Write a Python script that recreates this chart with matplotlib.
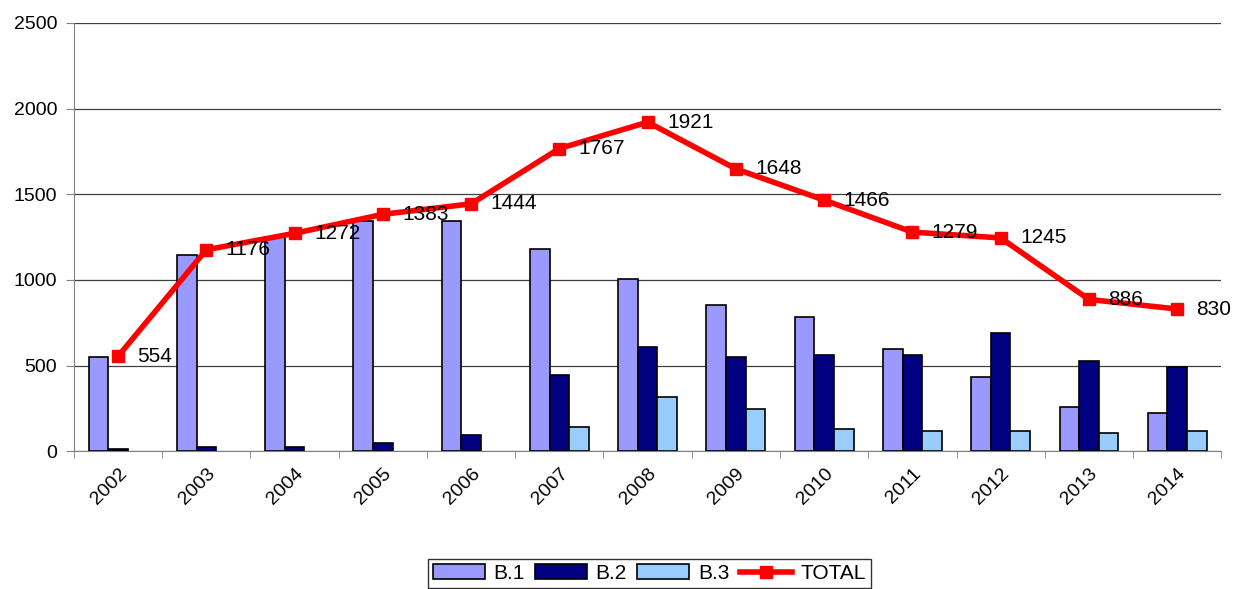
import matplotlib.pyplot as plt
import numpy as np

years = ['2002', '2003', '2004', '2005', '2006', '2007', '2008',
         '2009', '2010', '2011', '2012', '2013', '2014']
b1 = [550, 1145, 1250, 1345, 1345, 1180, 1005, 853, 784, 596, 434, 259, 220]
b2 = [15, 25, 25, 48, 93, 444, 609, 551, 561, 561, 691, 527, 492]
b3 = [0, 0, 0, 0, 0, 142, 317, 245, 128, 117, 117, 107, 117]
total = [554, 1176, 1272, 1383, 1444, 1767, 1921, 1648, 1466, 1279, 1245, 886, 830]

plt.rcParams['font.family'] = ['Liberation Sans', 'DejaVu Sans']

fig = plt.figure(figsize=(12.39, 5.89), dpi=100)
ax = fig.add_axes([0.0597, 0.234, 0.926, 0.727])

x = np.arange(len(years))
w = 0.222
handles = []
for vals, off, col, lab in [(b1, -w, '#9999FF', 'B.1'),
                            (b2, 0, '#000080', 'B.2'),
                            (b3, w, '#99CCFF', 'B.3')]:
    # no outline for empty bars
    lws = [1.2 if v > 0 else 0 for v in vals]
    bars = ax.bar(x + off, vals, w, color=col, edgecolor='black',
                  linewidth=lws, label=lab, zorder=3)
    handles.append(bars)
line, = ax.plot(x, total, color='#FF0000', linewidth=4, marker='s', markersize=9,
                label='TOTAL', zorder=4)
handles.append(line)

for xi, v in zip(x, total):
    ax.annotate(str(v), (xi, v), xytext=(14, 0), textcoords='offset points',
                ha='left', va='center', fontsize=15, zorder=5)

ax.set_xlim(-0.5, len(years) - 0.5)
ax.set_ylim(0, 2500)
ax.set_yticks(range(0, 2501, 500))
ax.yaxis.grid(True, color='#404040', linewidth=0.9, zorder=0)
ax.set_axisbelow(True)

ax.set_xticks(x)
ax.set_xticklabels(years, rotation=45, ha='right', rotation_mode='anchor', fontsize=14)
ax.set_xticks(np.arange(-0.5, len(years)), minor=True)
ax.tick_params(axis='x', which='major', length=0, pad=10)
ax.tick_params(axis='x', which='minor', length=5, color='#808080')
ax.tick_params(axis='y', length=6, color='#808080', labelsize=14, pad=6)

for s in ['top', 'right']:
    ax.spines[s].set_visible(False)
for s in ['left', 'bottom']:
    ax.spines[s].set_color('#808080')

leg = fig.legend(handles, ['B.1', 'B.2', 'B.3', 'TOTAL'],
                 loc='lower center', bbox_to_anchor=(0.524, -0.016), ncol=4,
                 fontsize=15, frameon=True, fancybox=False, edgecolor='black',
                 handlelength=2.5, handletextpad=0.4, columnspacing=0.5,
                 borderpad=0.25)
leg.get_frame().set_linewidth(1)
for p in leg.get_patches():
    p.set_linewidth(1.2)
    p.set_edgecolor('black')

fig.savefig('out.png', dpi=100)
